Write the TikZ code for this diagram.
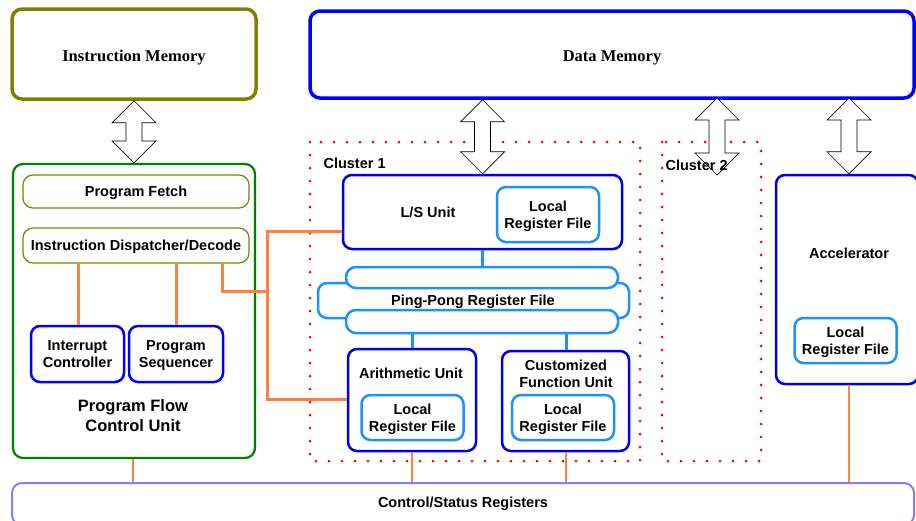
\documentclass[tikz,border=0pt]{standalone}
\usepackage{fontspec}
\setmainfont{Liberation Serif}
\setsansfont{Liberation Sans}
\usetikzlibrary{calc}

\definecolor{olivec}{RGB}{128,128,0}
\definecolor{memblue}{RGB}{0,0,255}
\definecolor{unitblue}{RGB}{0,0,230}
\definecolor{rfblue}{RGB}{30,144,255}
\definecolor{pfgreen}{RGB}{0,128,0}
\definecolor{csrc}{RGB}{128,128,255}
\definecolor{wire}{RGB}{255,128,64}
\definecolor{dotred}{RGB}{255,0,0}

\tikzset{
  memlabel/.style={font=\fontsize{16.5}{19}\selectfont\rmfamily\bfseries, text depth=0pt},
  lbl/.style={font=\fontsize{14.5}{17}\selectfont\sffamily\bfseries, align=center, text depth=0pt},
  biglbl/.style={font=\fontsize{16.5}{20}\selectfont\sffamily\bfseries, align=center, text depth=0pt},
  membox/.style={draw, rounded corners=10pt, line width=3.5pt, inner sep=0pt},
  unitbox/.style={draw=unitblue, rounded corners=9pt, line width=2.5pt, inner sep=0pt},
  rfbox/.style={draw=rfblue, rounded corners=9pt, line width=2.5pt, inner sep=0pt, lbl,
    minimum width=102pt, minimum height=45pt},
  subbox/.style={draw=olivec, rounded corners=10pt, line width=1.2pt, inner sep=0pt, lbl},
  capsule/.style={draw=rfblue, fill=white, rounded corners=10pt, line width=2.5pt, inner sep=0pt},
  cluster/.style={draw=dotred, line width=3pt, line cap=round, dash pattern=on 0pt off 13pt},
  busarrow/.style={draw=black, fill=white, line width=0.7pt, line join=miter},
  wirel/.style={draw=wire, line width=3pt},
  bluelink/.style={draw=rfblue, line width=3pt},
}

% double-headed block arrow from point #1 (top) down to point #2 (bottom)
\newcommand\busarrow[2]{%
  \path[busarrow] let \p1=#1, \p2=#2 in
    (\x1,\y1) -- (\x1+22pt,\y1-22pt) -- (\x1+8pt,\y1-22pt) -- (\x1+8pt,\y2+22pt)
    -- (\x1+22pt,\y2+22pt) -- (\x1,\y2) -- (\x1-22pt,\y2+22pt) -- (\x1-8pt,\y2+22pt)
    -- (\x1-8pt,\y1-22pt) -- (\x1-22pt,\y1-22pt) -- cycle;}

\begin{document}
\begin{tikzpicture}[x=1pt, y=-1pt]
\useasboundingbox (0,0) rectangle (916,520);
\fill[white] (0,0) rectangle (916,520);

% memories
\node[membox, draw=olivec, minimum width=244pt, minimum height=90pt] (imem) at (134,54) {};
\node[memlabel] (imemlbl) at (134,56) {Instruction Memory};
\node[membox, draw=memblue, minimum width=604pt, minimum height=87pt] (dmem) at (612,54.5) {};
\node[memlabel] (dmemlbl) at (612,56) {Data Memory};

% control/status register bar
\node[draw=csrc, rounded corners=10pt, line width=2pt, minimum width=902pt, minimum height=42pt,
      inner sep=0pt] (csr) at (463,504) {};
\node[lbl] (csrlbl) at (463,502) {Control/Status Registers};

% program flow control unit
\node[draw=pfgreen, rounded corners=10pt, line width=2.2pt, minimum width=242pt, minimum height=294pt,
      inner sep=0pt] (pfcu) at (134,311) {};
\node[subbox, minimum width=226pt, minimum height=33pt] (fetch) at (136,191.5) {Program Fetch};
\node[subbox, minimum width=226pt, minimum height=35pt] (disp) at (136,245.5) {Instruction Dispatcher/Decode};
\node[unitbox, draw=memblue, lbl, minimum width=93pt, minimum height=56pt] (intc) at (77.5,354) {Interrupt\\Controller};
\node[unitbox, draw=memblue, lbl, minimum width=94pt, minimum height=56pt] (pseq) at (176,354) {Program\\Sequencer};
\node[biglbl] (pfculbl) at (133,416) {Program Flow\\Control Unit};

% clusters
\draw[cluster] (310,142) rectangle (640,461);
\draw[cluster] (662,142) rectangle (761,461);

% cluster 1 units
\node[unitbox, minimum width=279pt, minimum height=74pt] (ls) at (482.5,212) {};
\node[lbl] (lslbl) at (428,212) {L/S Unit};
\node[rfbox, minimum height=55pt] (lsrf) at (548,214.5) {Local\\Register File};

\node[draw=rfblue, rounded corners=9pt, line width=2.5pt, minimum width=311pt, minimum height=35pt,
      inner sep=0pt] (ppmid) at (473.5,300.5) {};
\node[capsule, minimum width=272pt, minimum height=21pt] (pptop) at (482,277.5) {};
\node[capsule, minimum width=272pt, minimum height=23pt] (ppbot) at (482,321.5) {};
\node[lbl] (pplbl) at (473,300.5) {Ping-Pong Register File};

\node[unitbox, minimum width=128pt, minimum height=102pt] (au) at (412,400) {};
\node[lbl] (aulbl) at (411,373) {Arithmetic Unit};
\node[rfbox] (aurf) at (412.5,417.5) {Local\\Register File};

\node[unitbox, minimum width=127pt, minimum height=100pt] (cfu) at (565.5,401) {};
\node[lbl] (cfulbl) at (566,374) {Customized\\Function Unit};
\node[rfbox] (cfurf) at (563,417.5) {Local\\Register File};

% accelerator
\node[unitbox, minimum width=142pt, minimum height=209pt] (acc) at (847,279.5) {};
\node[lbl] (acclbl) at (849,253) {Accelerator};
\node[rfbox] (accrf) at (845.5,340.5) {Local\\Register File};

% memory ports
\busarrow{(imem.south)}{(pfcu.north)}
\busarrow{(dmem.south -| ls.north)}{(ls.north)}
\coordinate (c2top) at (717,98);
\coordinate (c2end) at (717,175);
\busarrow{(c2top)}{(c2end)}
\coordinate (acctop) at (849,98);
\busarrow{(acctop)}{(acctop |- acc.north)}

% cluster labels sit on top of the port arrows
\node[lbl, anchor=west] (c1lbl) at (320,163) {Cluster 1};
\node[lbl, anchor=west] (c2lbl) at (662,165) {Cluster 2};

% register file links
\draw[bluelink] (ls.south -| pptop.north) -- (pptop.north);
\draw[bluelink] (ppbot.south -| 412,0) -- (au.north -| 412,0);
\draw[bluelink] (ppbot.south -| 566,0) -- (cfu.north -| 566,0);

% control wires
\draw[wirel] (disp.south -| 78,0) -- (intc.north -| 78,0);
\draw[wirel] (disp.south -| 176,0) -- (pseq.north -| 176,0);
\coordinate (jtop) at (267,231);
\coordinate (jbot) at (267,399);
\draw[wirel] (disp.south -| 222,0) |- (267,291);
\draw[wirel] (ls.west |- jtop) -- (jtop) -- (jbot) -- (au.west |- jbot);

% status wires
\draw[wire, line width=2.5pt] (pfcu.south -| 133,0) -- (csr.north -| 133,0);
\draw[wire, line width=2.5pt] (au.south) -- (csr.north -| au.south);
\draw[wire, line width=2.5pt] (cfu.south -| 566,0) -- (csr.north -| 566,0);
\draw[wire, line width=2.5pt] (acc.south -| 849,0) -- (csr.north -| 849,0);
\end{tikzpicture}
\end{document}
